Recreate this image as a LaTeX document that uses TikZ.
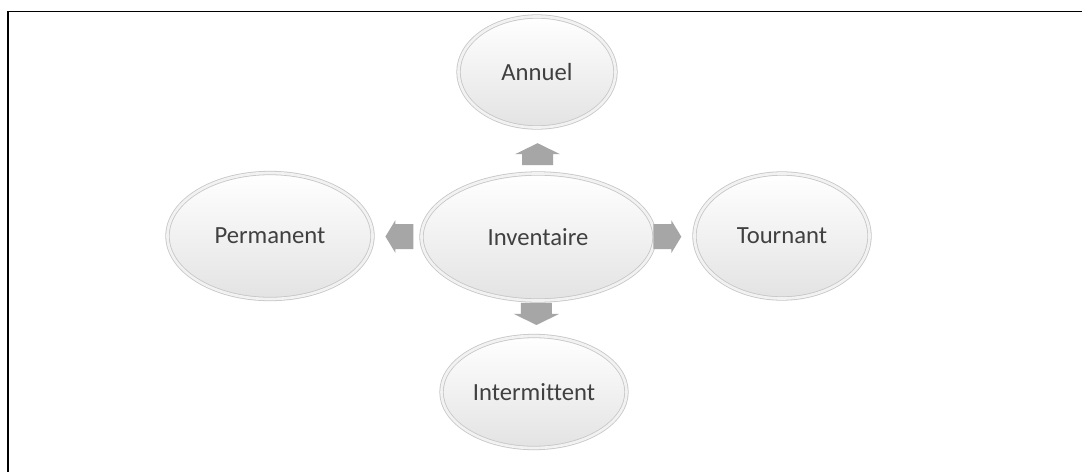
\documentclass[tikz,border=0pt]{standalone}
\usepackage{fontspec}
\setmainfont{Carlito}[Ligatures=NoCommon]
\usetikzlibrary{shapes.geometric,calc}
\definecolor{txt}{HTML}{404040}
\definecolor{arr}{HTML}{A6A6A6}
\begin{document}
\begin{tikzpicture}[x=0.75pt,y=-0.75pt,
  bubble/.style={ellipse, inner sep=0pt, outer sep=0pt,
    draw=gray!45, line width=0.6pt, double=gray!10, double distance=2pt,
    top color=white, bottom color=gray!22,
    text=txt, font=\fontsize{18.5}{20}\selectfont},
  % block arrow pointing along +x (vertical use)
  varrow/.pic={\fill[arr] (-11,-15.5) -- (0,-15.5) -- (0,-22.5) -- (11,0)
      -- (0,22.5) -- (0,15.5) -- (-11,15.5) -- cycle;},
  % block arrow pointing along +x (horizontal use)
  harrow/.pic={\fill[arr] (-14,-12.5) -- (4,-12.5) -- (4,-16.5) -- (14,0)
      -- (4,16.5) -- (4,12.5) -- (-14,12.5) -- cycle;},
]
\useasboundingbox (0,0) rectangle (1082,472);
\fill[white] (0,0) rectangle (1082,472);

% frame
\draw[line width=0.75pt] (8,11) -- (1082,11);
\draw[line width=1.3pt] (8,11) -- (8,472);

% ellipses
\node[bubble, minimum width=174.75pt, minimum height=95.25pt] (inv) at (538,237) {Inventaire};
\node[bubble, minimum width=117.75pt, minimum height=83.25pt] (ann) at (537,72) {Annuel};
\node[bubble, minimum width=153.75pt, minimum height=94.5pt] (perm) at (270,236) {Permanent};
\node[bubble, minimum width=131.25pt, minimum height=93.75pt] (tour) at (782,236) {Tournant};
\node[bubble, minimum width=138.75pt, minimum height=84pt] (int) at (534,392) {Intermittent};

% block arrows between the centre and the outer ellipses
\pic[rotate=90]  at ($(inv.north)!0.42!(ann.south)$) {varrow};
\pic[rotate=-90] at ($(inv.south)!0.38!(int.north)$) {varrow};
\pic             at ($(inv.east)!0.32!(tour.west)$)  {harrow};
\pic[rotate=180] at ($(inv.west)!0.45!(perm.east)$)  {harrow};
\end{tikzpicture}
\end{document}
